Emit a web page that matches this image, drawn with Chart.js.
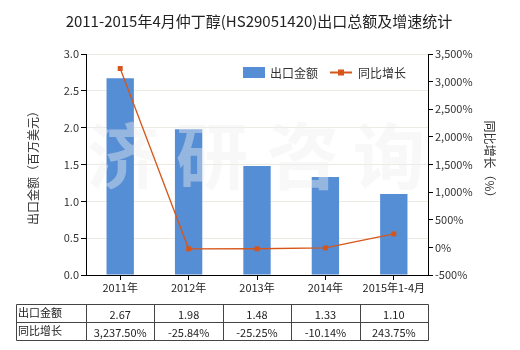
<!DOCTYPE html>
<html><head><meta charset="utf-8">
<script src="https://cdn.jsdelivr.net/npm/chart.js@4/dist/chart.umd.min.js"></script>
<style>html,body{margin:0;padding:0;background:#fff;}#wrap{width:520px;height:350px;position:relative;}</style>
</head><body><div id="wrap"><canvas id="c" width="520" height="350"></canvas></div>
<script>
const title = '2011-2015年4月仲丁醇(HS29051420)出口总额及增速统计';
const categories = ['2011年','2012年','2013年','2014年','2015年1-4月'];
const exportValues = [2.67, 1.98, 1.48, 1.33, 1.10];
const growthValues = [3237.50, -25.84, -25.25, -10.14, 243.75];
const exportLabels = ['2.67','1.98','1.48','1.33','1.10'];
const growthLabels = ['3,237.50%','-25.84%','-25.25%','-10.14%','243.75%'];
const seriesNames = ['出口金额','同比增长'];
const leftTitle = '出口金额（百万美元）';
const rightTitle = '同比增长（%）';
const watermark = ['济','研','咨','询'];

const FONT = '"Noto Sans CJK SC", "Liberation Sans", sans-serif';
const BAR = '#558ED5';
const LINE = '#D6561A';

const extras = {
  id:'extras',
  afterDatasetDraw(chart, args){
    if(args.index!==0) return;
    const ctx = chart.ctx, ca = chart.chartArea;
    ctx.save();
    ctx.fillStyle='rgba(238,238,238,0.42)';
    ctx.font='bold 72px '+FONT;
    ctx.textAlign='center'; ctx.textBaseline='middle';
    const xs=[123,212,303,389];
    watermark.forEach((w,i)=>ctx.fillText(w,xs[i],156));
    ctx.restore();
  },
  afterDraw(chart){
    const ctx=chart.ctx, ca=chart.chartArea, xs=chart.scales.x;
    ctx.save();
    // title
    ctx.fillStyle='#222'; ctx.font='15px '+FONT;
    ctx.textAlign='center'; ctx.textBaseline='middle';
    ctx.fillText(title,259,21);
    // axis titles
    ctx.font='12px '+FONT; ctx.fillStyle='#333';
    ctx.save(); ctx.translate(33,165); ctx.rotate(-Math.PI/2); ctx.fillText(leftTitle,0,0); ctx.restore();
    ctx.save(); ctx.translate(490,162); ctx.rotate(Math.PI/2); ctx.fillText(rightTitle,0,0); ctx.restore();
    // legend
    ctx.fillStyle=BAR; ctx.fillRect(243,67,22,11);
    ctx.fillStyle='#333'; ctx.textAlign='left'; ctx.font='12px '+FONT;
    ctx.fillText(seriesNames[0],270,73);
    ctx.strokeStyle=LINE; ctx.lineWidth=2; ctx.beginPath(); ctx.moveTo(330,72.5); ctx.lineTo(352,72.5); ctx.stroke();
    ctx.fillStyle=LINE; ctx.fillRect(338,69.5,6,6);
    ctx.fillStyle='#333'; ctx.fillText(seriesNames[1],358,73);
    // table
    const n=categories.length;
    const step=(xs.getPixelForValue(1)-xs.getPixelForValue(0));
    const left=16, firstR=Math.round(xs.getPixelForValue(0)-step/2)+0.5;
    const top=304.5, rowH=18;
    const bounds=[left+0.5, firstR];
    for(let i=0;i<n;i++) bounds.push(Math.round(xs.getPixelForValue(i)+step/2)+0.5);
    ctx.strokeStyle='#444'; ctx.lineWidth=1;
    ctx.beginPath();
    for(let r=0;r<=2;r++){ctx.moveTo(bounds[0],top+r*rowH); ctx.lineTo(bounds[bounds.length-1],top+r*rowH);}
    bounds.forEach(b=>{ctx.moveTo(b,top); ctx.lineTo(b,top+2*rowH);});
    ctx.stroke();
    ctx.fillStyle='#222'; ctx.font='11px '+FONT; ctx.textBaseline='middle';
    ctx.textAlign='left';
    ctx.fillText(seriesNames[0],18,top+rowH/2-1);
    ctx.fillText(seriesNames[1],18,top+rowH*1.5-1);
    ctx.textAlign='center';
    for(let i=0;i<n;i++){
      const cx=xs.getPixelForValue(i);
      ctx.fillText(exportLabels[i],cx,top+rowH/2+1);
      ctx.fillText(growthLabels[i],cx,top+rowH*1.5+1);
    }
    ctx.restore();
  }
};

new Chart(document.getElementById('c'),{
  type:'bar',
  data:{labels:categories,datasets:[
    {type:'bar',label:seriesNames[0],data:exportValues,backgroundColor:BAR,yAxisID:'y',order:1,barPercentage:0.4,categoryPercentage:1},
    {type:'line',label:seriesNames[1],data:growthValues,borderColor:LINE,backgroundColor:LINE,borderWidth:1.3,pointStyle:'rect',pointRadius:3.5,pointBackgroundColor:LINE,pointBorderColor:LINE,pointBorderWidth:0,yAxisID:'y1',order:0,tension:0}
  ]},
  options:{
    responsive:false,animation:false,
    layout:{padding:{top:54,bottom:55,left:0,right:0}},
    plugins:{legend:{display:false},title:{display:false},tooltip:{enabled:false}},
    scales:{
      x:{offset:true,grid:{offset:false,drawOnChartArea:false,tickLength:5,tickColor:'#000'},border:{color:'#000'},
         ticks:{color:'#222',font:{size:11,family:FONT},padding:1,maxRotation:0},afterFit(s){s.height=20;}},
      y:{position:'left',min:0,max:3,ticks:{stepSize:0.5,color:'#333',font:{size:11,family:FONT},padding:2,callback:v=>v.toFixed(1)},
         grid:{color:'#ebebe3',tickColor:'#000',tickLength:5},border:{color:'#000'},afterFit(s){s.width=86;}},
      y1:{position:'right',min:-500,max:3500,ticks:{stepSize:500,color:'#333',font:{size:11,family:FONT},padding:2,callback:v=>v.toLocaleString('en-US')+'%'},
         grid:{drawOnChartArea:false,tickColor:'#000',tickLength:5},border:{color:'#000'},afterFit(s){s.width=92;}}
    }
  },
  plugins:[extras]
});
</script></body></html>
